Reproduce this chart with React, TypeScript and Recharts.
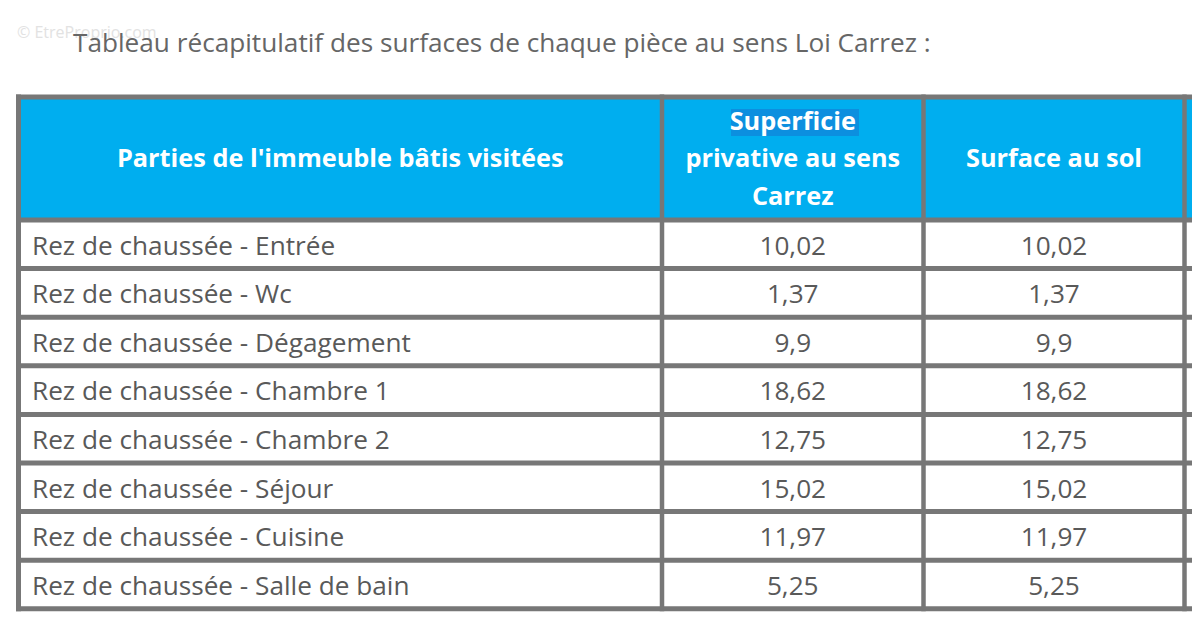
import { Surface, Rectangle, Text } from 'recharts'

const pieces = [
  'Rez de chaussée - Entrée',
  'Rez de chaussée - Wc',
  'Rez de chaussée - Dégagement',
  'Rez de chaussée - Chambre 1',
  'Rez de chaussée - Chambre 2',
  'Rez de chaussée - Séjour',
  'Rez de chaussée - Cuisine',
  'Rez de chaussée - Salle de bain',
]
const superficieCarrez = [10.02, 1.37, 9.9, 18.62, 12.75, 15.02, 11.97, 5.25]
const surfaceSol = [10.02, 1.37, 9.9, 18.62, 12.75, 15.02, 11.97, 5.25]
const headers = [
  ["Parties de l'immeuble bâtis visitées"],
  ['Superficie', 'privative au sens', 'Carrez'],
  ['Surface au sol'],
  [''],
]

const W = 1200
const H = 624
const FONT = '"Open Sans", Lato, sans-serif'
const BORDER = '#777777'
const BLUE = '#00AEEF'
const TEXT = '#595959'

// grid lines (border centres)
const colX = [18.5, 662, 923.5, 1184.5, 1400]
const headTop = 97
const headBottom = 220
const rowH = 48.6

function fmt(v: number) {
  return String(v).replace('.', ',')
}

function App() {
  const rowY = (i: number) => headBottom + rowH * i
  const tableBottom = rowY(pieces.length)
  const cols = [pieces, superficieCarrez.map(fmt), surfaceSol.map(fmt), pieces.map(() => '')]

  return (
    <div style={{ width: W, height: H, margin: -8, background: '#fff', overflow: 'hidden' }}>
      <Surface width={W} height={H}>
        {/* watermark */}
        <text x={17} y={38} fontFamily={FONT} fontSize={16} fill="#e2e2e2">
          © EtreProprio.com
        </text>
        <text x={73} y={52} fontFamily={FONT} fontSize={26.2} fill="#666666">
          Tableau récapitulatif des surfaces de chaque pièce au sens Loi Carrez :
        </text>

        {/* header background */}
        <Rectangle x={colX[0]} y={headTop} width={W} height={headBottom - headTop} fill={BLUE} />
        <Rectangle x={731} y={109} width={128} height={27} fill="#0C8FDF" />

        {headers.map((lines, c) => {
          const cx = (colX[c] + colX[c + 1]) / 2
          const cy = (headTop + headBottom) / 2
          return lines.map((line, k) => (
            <Text
              key={`h${c}-${k}`}
              x={cx}
              y={cy + (k - (lines.length - 1) / 2) * 37.5}
              textAnchor="middle"
              verticalAnchor="middle"
              fontFamily={FONT}
              fontWeight={700}
              fontSize={25.3}
              fill="#ffffff"
            >
              {line}
            </Text>
          ))
        })}

        {/* body cells */}
        {pieces.map((_, r) =>
          cols.map((col, c) => {
            const cy = rowY(r) + rowH / 2 + 1
            const left = c === 0
            return (
              <Text
                key={`c${r}-${c}`}
                x={left ? 32 : (colX[c] + colX[c + 1]) / 2}
                y={cy}
                textAnchor={left ? 'start' : 'middle'}
                verticalAnchor="middle"
                fontFamily={FONT}
                fontSize={26.2}
                fill={TEXT}
              >
                {col[r]}
              </Text>
            )
          })
        )}

        {/* horizontal borders */}
        {[headTop, ...pieces.map((_, i) => rowY(i)), tableBottom].map((y, i) => (
          <line key={`hl${i}`} x1={colX[0] - 2.5} x2={W} y1={y} y2={y} stroke={BORDER} strokeWidth={5} />
        ))}
        {/* vertical borders */}
        {colX.slice(0, 4).map((x, i) => (
          <line key={`vl${i}`} x1={x} x2={x} y1={headTop - 2.5} y2={tableBottom + 2.5} stroke={BORDER} strokeWidth={i === 0 ? 5 : 4.5} />
        ))}
      </Surface>
    </div>
  )
}

export default App
